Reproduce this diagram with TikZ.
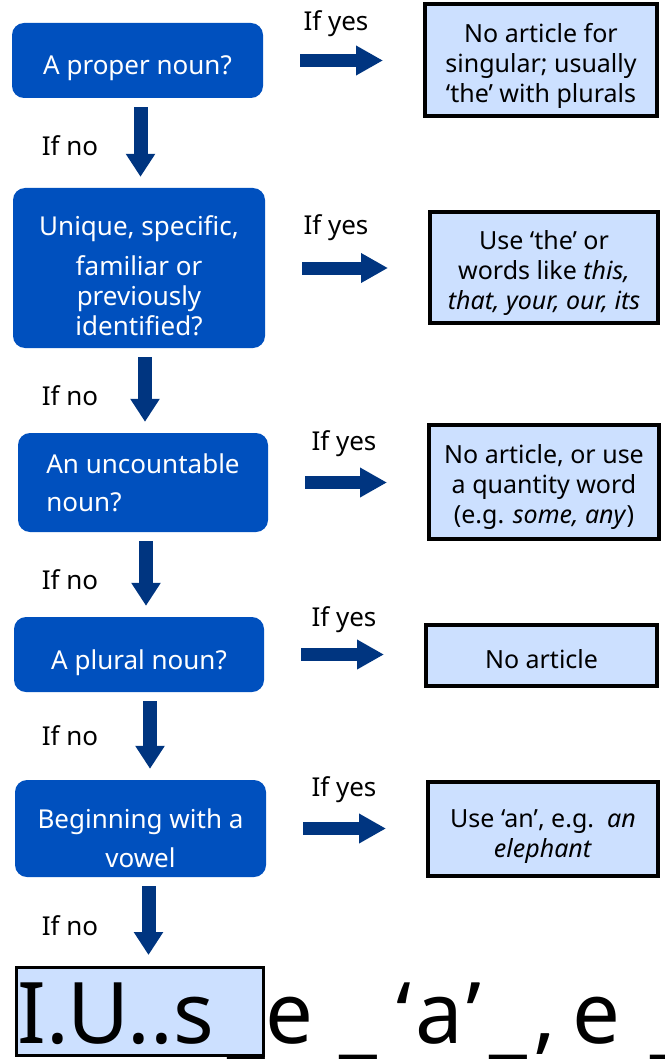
\documentclass[tikz,border=0pt]{standalone}
\usepackage{fontspec}
\setmainfont{Noto Sans}
\usetikzlibrary{arrows.meta}
\definecolor{qblue}{RGB}{0,80,190}
\definecolor{arrowblue}{RGB}{0,53,128}
\definecolor{ansfill}{RGB}{204,224,255}
\newcommand{\toppad}[1]{\rule{0pt}{#1}}
\newcommand{\lowbar}{\raisebox{-4pt}{\_}}

\begin{document}
\begin{tikzpicture}[x=1pt, y=-1pt]
\tikzset{question/.style = {shape=rectangle, rounded corners=12pt, fill=qblue, text=white, align=center, font=\fontsize{26}{30}\selectfont, inner sep=0pt}}
    \tikzset{answer/.style = {shape=rectangle, draw=black, line width=4pt, fill=ansfill, align=center, font=\fontsize{25}{30}\selectfont, inner sep=0pt}}
    \tikzset{lbl/.style = {font=\fontsize{26}{30}\selectfont, inner sep=0pt}}
    \tikzset{yesarrow/.style = {draw=arrowblue, line width=13pt, -{Triangle[width=28pt, length=27pt]}, shorten <=37pt, shorten >=40pt}}
    \tikzset{noarrow/.style = {draw=arrowblue, line width=14pt, -{Triangle[width=28pt, length=23pt]}, shorten <=9pt, shorten >=11pt}}
\useasboundingbox (0,0) rectangle (664,1059);
% Questions down the left side
\node[question, minimum width=251pt, minimum height=75pt] (q1) at (137.5,60.5){\toppad{35pt}A proper noun?};
\node[question, minimum width=252pt, minimum height=160pt] (q2) at (139,268){\toppad{36pt}Unique, specific,\\[10pt]familiar or\\previously\\identified?};
\node[question, minimum width=250pt, minimum height=99pt, align=left] (q3) at (143,482.5){An uncountable\\[8pt]noun?};
\node[question, minimum width=250pt, minimum height=75pt] (q4) at (139,654.5){\toppad{36pt}A plural noun?};
\node[question, minimum width=251pt, minimum height=97pt] (q5) at (140.5,828.5){\toppad{40pt}Beginning with a\\[9pt]vowel};

% Answers on the right
\node[answer, minimum width=232pt, minimum height=112pt] (a1) at (541,60){\toppad{31pt}No article for\\singular; usually\\‘the’ with plurals};
\node[answer, minimum width=228pt, minimum height=111pt] (a2) at (544,267.5){\toppad{29pt}Use ‘the’ or\\words like \textit{this,}\\\textit{that, your, our, its}};
\node[answer, minimum width=230pt, minimum height=114pt] (a3) at (544,482){\toppad{29pt}No article, or use\\a quantity word\\(e.g. \textit{some, any})};
\node[answer, minimum width=231pt, minimum height=61pt] (a4) at (541.5,655.5){\toppad{27pt}No article};
\node[answer, minimum width=230pt, minimum height=94pt] (a5) at (543,829){\toppad{33pt}Use ‘an’, e.g.\ \ \textit{an}\\\textit{elephant}};
\node[answer, line width=3pt, minimum width=247pt, minimum height=88pt] (a6) at (140,1011.5){};
\node[anchor=base west, inner sep=0pt, font=\fontsize{85}{90}\selectfont] (last) at (17,1043){I.U..s\hspace{14pt}\lowbar e\hspace{4pt} \lowbar\hspace{19pt}‘\hspace{4pt}a\hspace{4pt}’\hspace{8pt}\lowbar\hspace{6pt},\hspace{-6pt} e\hspace{8pt} \lowbar};

% If yes
\node[lbl] (y1) at (336,24){If yes};
\node[lbl] (y2) at (336,228){If yes};
\node[lbl] (y3) at (344,444){If yes};
\node[lbl] (y4) at (344,620){If yes};
\node[lbl] (y5) at (344,790){If yes};
% If no
\node[lbl] (n1) at (70,146){If no};
\node[lbl] (n2) at (70,396){If no};
\node[lbl] (n3) at (70,580){If no};
\node[lbl] (n4) at (70,736){If no};
\node[lbl] (n5) at (70,926){If no};

\draw[yesarrow] (q1.east) to (a1.west |- q1.east);
\draw[yesarrow] (q2.east) to (a2.west |- q2.east);
\draw[yesarrow] (q3.east) to (a3.west |- q3.east);
\draw[yesarrow] (q4.east) to (a4.west |- q4.east);
\draw[yesarrow] (q5.east) to (a5.west |- q5.east);

\draw[noarrow] ([xshift=3pt]q1.south) to ([xshift=3pt]q1.south |- q2.north);
\draw[noarrow] ([xshift=6pt]q2.south) to ([xshift=6pt]q2.south |- q3.north);
\draw[noarrow] ([xshift=3pt]q3.south) to ([xshift=3pt]q3.south |- q4.north);
\draw[noarrow] ([xshift=11pt]q4.south) to ([xshift=11pt]q4.south |- q5.north);
\draw[noarrow] ([xshift=8pt]q5.south) to ([xshift=8pt]q5.south |- a6.north);
\end{tikzpicture}
\end{document}
